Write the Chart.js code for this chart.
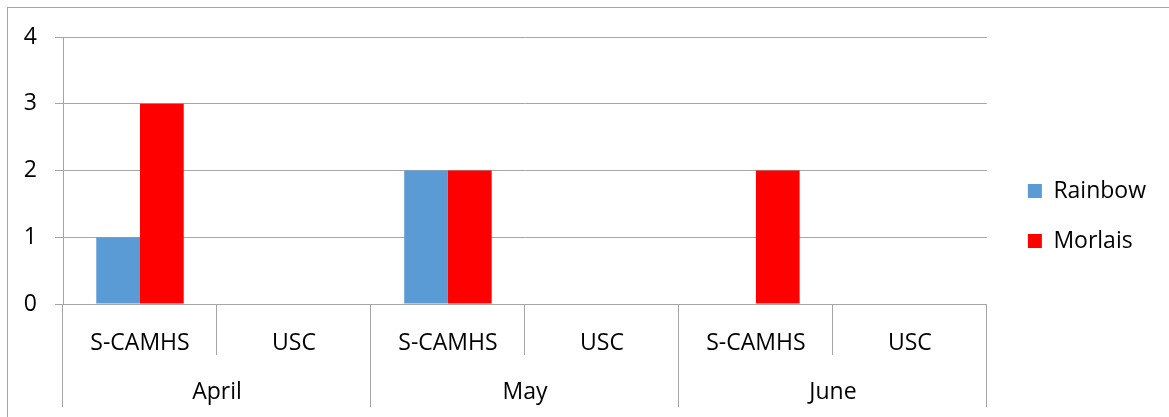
<!DOCTYPE html>
<html lang="en">
  <head>
    <meta charset="UTF-8" />
    <title>Rainbow vs Morlais</title>
    <script src="https://cdn.jsdelivr.net/npm/chart.js"></script>
    <style>
      body {
        margin: 0;
        background: #fff;
        font-family: "Open Sans", sans-serif;
      }
      .wrap {
        position: relative;
        width: 1169px;
        height: 417px;
        overflow: hidden;
      }
      /* outer frame, cropped on the right and bottom like the original */
      .frame {
        position: absolute;
        left: 7px;
        top: 7px;
        width: 1300px;
        height: 500px;
        border: 1px solid #a6a6a6;
      }
      canvas {
        position: absolute;
        left: 0;
        top: 0;
      }
    </style>
  </head>
  <body>
    <div class="wrap">
      <div class="frame"></div>
      <canvas id="chart" width="1169" height="417"></canvas>
    </div>

    <script>
      // data
      const months = ['April', 'May', 'June'];
      const services = ['S-CAMHS', 'USC', 'S-CAMHS', 'USC', 'S-CAMHS', 'USC'];
      const rainbow = [1, 0, 2, 0, 0, 0];
      const morlais = [3, 0, 2, 0, 2, 0];
      const yTicks = [0, 1, 2, 3, 4];

      const gridColor = '#a6a6a6';
      const font = { family: 'Open Sans', size: 23 };

      const ctx = document.getElementById('chart').getContext('2d');
      new Chart(ctx, {
        type: 'bar',
        data: {
          labels: services,
          datasets: [
            {
              label: 'Rainbow',
              data: rainbow,
              backgroundColor: '#5b9bd5',
              categoryPercentage: 0.568,
              barPercentage: 1
            },
            {
              label: 'Morlais',
              data: morlais,
              backgroundColor: '#ff0000',
              categoryPercentage: 0.568,
              barPercentage: 1
            }
          ]
        },
        options: {
          responsive: false,
          animation: false,
          layout: { padding: { top: 25, bottom: 10, left: 0, right: 13 } },
          plugins: {
            tooltip: { enabled: false },
            legend: {
              position: 'right',
              labels: {
                boxWidth: 14,
                boxHeight: 14,
                padding: 27,
                color: '#000',
                font: font
              }
            }
          },
          scales: {
            x: {
              type: 'category',
              position: 'bottom',
              grid: {
                offset: true,
                drawOnChartArea: false,
                tickLength: 51,
                color: gridColor
              },
              border: { display: true, color: gridColor },
              ticks: { color: '#000', font: font, padding: -25, maxRotation: 0, autoSkip: false },
              afterFit: (s) => { s.height = 51; }
            },
            x2: {
              type: 'category',
              position: 'bottom',
              labels: months,
              grid: {
                offset: true,
                drawOnChartArea: false,
                tickLength: 52,
                color: gridColor
              },
              border: { display: false },
              ticks: { color: '#000', font: font, padding: -28, maxRotation: 0 },
              afterFit: (s) => { s.height = 52; }
            },
            // empty strip above the plot so the legend sits a little higher
            xT: {
              type: 'category',
              position: 'top',
              labels: months,
              grid: { display: false },
              border: { display: false },
              ticks: { display: false },
              afterFit: (s) => { s.height = 12; }
            },
            y: {
              min: 0,
              max: 4,
              afterBuildTicks: (s) => { s.ticks = yTicks.map(v => ({ value: v })); },
              grid: { color: gridColor, tickLength: 8 },
              border: { display: true, color: gridColor },
              ticks: { color: '#000', font: font, padding: 18 },
              afterFit: (s) => { s.width = 63; }
            },
            yR: {
              position: 'right',
              min: 0,
              max: 4,
              grid: { display: false },
              border: { display: false },
              ticks: { display: false },
              afterFit: (s) => { s.width = 14; }
            }
          }
        }
      });
    </script>
  </body>
</html>
